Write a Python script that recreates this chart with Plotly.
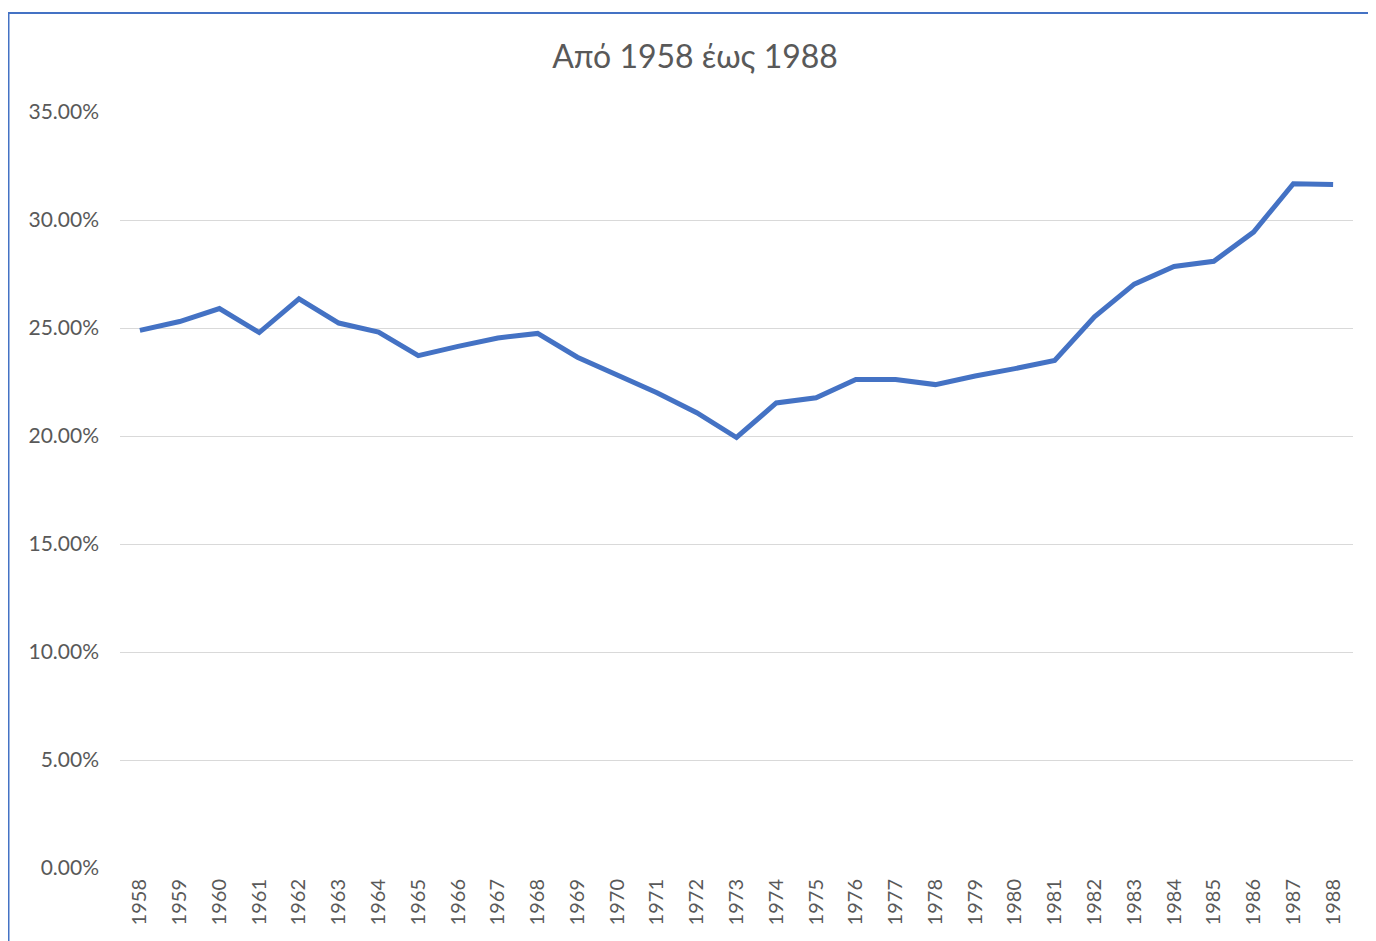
import plotly.graph_objects as go

years = [str(y) for y in range(1958, 1989)]
values_pct = [24.89, 25.30, 25.90, 24.79, 26.35, 25.23, 24.81, 23.72, 24.15, 24.54, 24.75,
              23.65, 22.82, 22.00, 21.08, 19.93, 21.53, 21.77, 22.62, 22.62, 22.38, 22.78,
              23.12, 23.50, 25.52, 27.03, 27.85, 28.09, 29.44, 31.68, 31.64]
y_ticks = [0, 0.05, 0.10, 0.15, 0.20, 0.25, 0.30, 0.35]
title_text = "Από 1958 έως 1988"

values = [v / 100 for v in values_pct]

FONT = "Lato"
GRAY = "#595959"
BLUE = "#4472C4"

fig = go.Figure()
fig.add_trace(go.Scatter(
    x=years, y=values, mode="lines",
    line=dict(color=BLUE, width=5),
    hoverinfo="x+y",
))

# page has an 8px body margin; figure coordinates are offset accordingly
W, H = 1368, 933
L, R, T, B = 112, 23, 104, 73
pw, ph = W - L - R, H - T - B

fig.update_layout(
    width=W, height=H,
    margin=dict(l=L, r=R, t=T, b=B),
    paper_bgcolor="white", plot_bgcolor="white",
    showlegend=False,
    title=dict(text=title_text, x=687 / W, xanchor="center",
               y=1 - 49 / H, yanchor="middle", yref="container",
               font=dict(family=FONT, size=32, color=GRAY)),
    xaxis=dict(type="category", range=[-0.5, len(years) - 0.5],
               tickangle=-90, showgrid=False, showline=False, zeroline=False,
               ticks="", ticklabelstandoff=6,
               tickfont=dict(family=FONT, size=20, color=GRAY)),
    yaxis=dict(range=[0, 0.35], tickvals=y_ticks, tickformat=".2%",
               showgrid=True, gridcolor="#D9D9D9", gridwidth=1.3,
               zeroline=False, showline=False, ticks="",
               ticklabelstandoff=20,
               tickfont=dict(family=FONT, size=21, color=GRAY)),
    shapes=[dict(type="rect", xref="paper", yref="paper",
                 x0=(0.5 - L) / pw, x1=(W + 20 - L) / pw,
                 y0=(H - B - (H + 20)) / ph, y1=(H - B - 5) / ph,
                 line=dict(color=BLUE, width=2), fillcolor="rgba(0,0,0,0)",
                 layer="below")],
)

fig.write_html("out.html")
